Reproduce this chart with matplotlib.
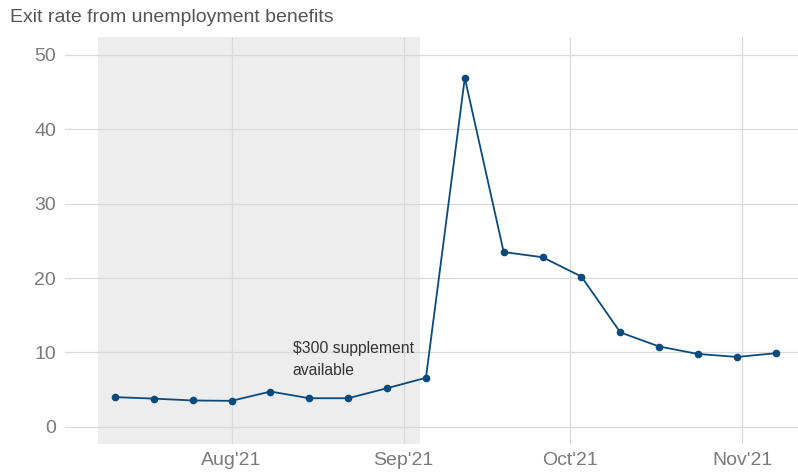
import numpy as np
import pandas as pd
import matplotlib.pyplot as plt
import matplotlib.dates as mdates

plt.rcParams['font.family'] = ['Liberation Sans', 'DejaVu Sans']

# weekly exit rate (%)
weeks = pd.date_range("2021-07-11", periods=18, freq="7D")
exit_rate = [4.0, 3.8, 3.55, 3.5, 4.75, 3.85, 3.85, 5.2, 6.6,
             46.9, 23.5, 22.8, 20.2, 12.7, 10.8, 9.8, 9.4, 9.9]
supplement_span = [pd.Timestamp("2021-07-08"), pd.Timestamp("2021-09-04")]
y_ticks = [0, 10, 20, 30, 40, 50]

fig = plt.figure(figsize=(7.98, 4.76), dpi=100)
ax = fig.add_axes([65 / 798, 32 / 476, 733 / 798, 407 / 476])

ax.axvspan(supplement_span[0], supplement_span[1], color="#ededed", lw=0, zorder=0)
ax.plot(weeks, exit_rate, color="#0b4a7c", lw=1.3, marker="o", ms=4.5, zorder=3)

ax.text(pd.Timestamp("2021-08-12"), 7.0, "$300 supplement\navailable",
        fontsize=11.3, color="#333333", va="baseline", ha="left", linespacing=1.55)

ax.set_xlim(pd.Timestamp("2021-07-02"), pd.Timestamp("2021-11-11"))
ax.set_ylim(-2.3, 52.4)
ax.set_yticks(y_ticks)
ax.xaxis.set_major_locator(mdates.MonthLocator())
ax.xaxis.set_major_formatter(mdates.DateFormatter("%b'%y"))

ax.set_axisbelow(True)
ax.grid(True, color="#d9d9d9", lw=0.9)
ax.tick_params(length=0, labelsize=14, labelcolor="#7a7a7a")
ax.tick_params(axis="y", pad=6.5)
ax.tick_params(axis="x", pad=6)
for s in ax.spines.values():
    s.set_visible(False)

fig.text(10 / 798, 1 - 17 / 476, "Exit rate from unemployment benefits",
         fontsize=14, color="#555555", va="center", ha="left")

fig.savefig("out.png", dpi=100)
